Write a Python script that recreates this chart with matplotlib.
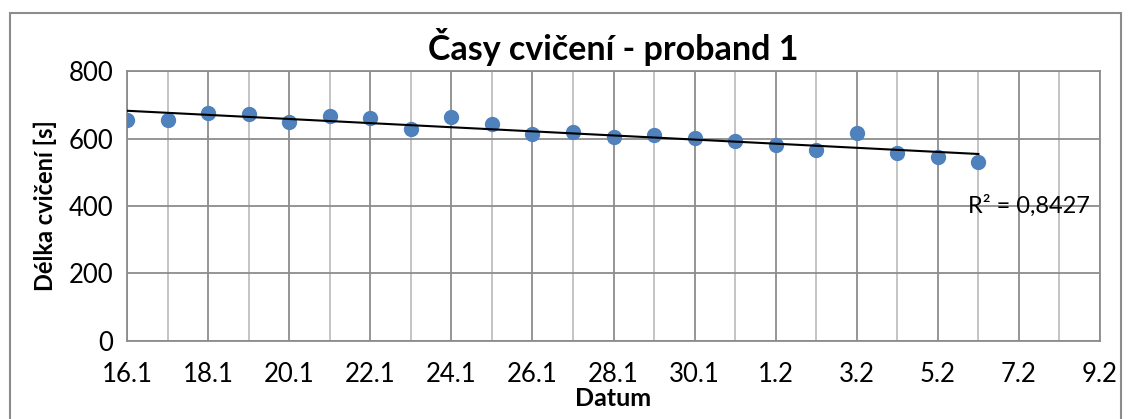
import matplotlib.pyplot as plt
import numpy as np
from matplotlib.patches import Rectangle
from matplotlib.ticker import MultipleLocator

plt.rcParams['font.family'] = ['Lato', 'DejaVu Sans']

# days since 16.1
days = list(range(22))
times = [656, 654, 676, 672, 648, 666, 661, 628, 664, 642, 612,
         620, 604, 611, 601, 592, 580, 567, 617, 556, 544, 529]
tick_days = list(range(0, 25, 2))
tick_labels = ['16.1', '18.1', '20.1', '22.1', '24.1', '26.1', '28.1',
               '30.1', '1.2', '3.2', '5.2', '7.2', '9.2']
r2_text = 'R² = 0,8427'

fig = plt.figure(figsize=(11.31, 4.19), dpi=100)
ax = fig.add_axes([0.1123, 0.1862, 0.8603, 0.6443])

# outer chart frame
fig.patches.append(Rectangle((10 / 1131, -0.05), 1111 / 1131, 1 - 13 / 419 + 0.05,
                             transform=fig.transFigure, fill=False,
                             edgecolor='#8c8c8c', linewidth=1.5))

x = np.array(days)
y = np.array(times)
k, q = np.polyfit(x, y, 1)

ax.plot(x, y, 'o', color='#4f81bd', markersize=10, zorder=3)
ax.plot([x[0], x[-1]], [k * x[0] + q, k * x[-1] + q], color='black', lw=1.5, zorder=4)

ax.set_xlim(0, 24)
ax.set_ylim(0, 800)
ax.set_xticks(tick_days)
ax.set_xticklabels(tick_labels)
ax.xaxis.set_minor_locator(MultipleLocator(1))
ax.set_yticks(range(0, 801, 200))

ax.grid(which='major', color='#8c8c8c', lw=1.3)
ax.grid(which='minor', axis='x', color='#bfbfbf', lw=1.3)
ax.set_axisbelow(True)
for s in ax.spines.values():
    s.set_color('#8c8c8c')
    s.set_linewidth(1.3)
ax.tick_params(which='both', length=0, labelsize=18.5)
ax.tick_params(axis='x', pad=15)
ax.tick_params(axis='y', pad=10)

ax.set_title('Časy cvičení - proband 1', fontsize=24.5, fontweight='bold', pad=8)
ax.set_xlabel('Datum', fontsize=18, fontweight='bold', labelpad=0)
ax.set_ylabel('Délka cvičení [s]', fontsize=17, fontweight='bold', labelpad=8)

ax.text(20.75, 400, r2_text, fontsize=17, va='center', ha='left')

fig.savefig('out.png', dpi=100)
